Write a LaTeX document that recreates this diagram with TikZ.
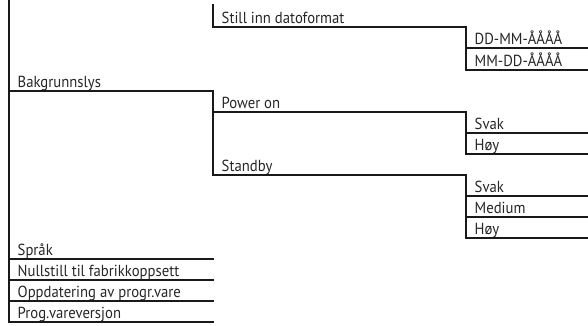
\documentclass[tikz,border=0pt]{standalone}
\usepackage{fontspec}
\setmainfont{PT Sans}[FakeStretch=0.92]
\usetikzlibrary{calc}
\tikzset{
  ln/.style={line width=1.8pt, line cap=rect, draw=black!90},
  lbl/.style={anchor=base west, inner sep=0pt, font=\fontsize{16}{18}\selectfont, text=black!85}
}
\newcommand\mitem[5]{%
  \coordinate (#1-l) at (#2,#4);
  \coordinate (#1-r) at (#3,#4);
  \node[lbl] (#1) at ([xshift=8.5pt,yshift=3.5pt]#1-l) {#5};
  \draw[ln] (#1-l) -- (#1-r);
}
\begin{document}
\begin{tikzpicture}[x=1pt,y=-1pt]
\useasboundingbox (0,0) rectangle (588,325);
\coordinate (top0) at (9,0);
\coordinate (top1) at (213,5);
\mitem{still}{213}{466}{27}{Still inn datoformat}
\mitem{ddmm}{466}{588}{48}{DD-MM-ÅÅÅÅ}
\mitem{mmdd}{466}{588}{70}{MM-DD-ÅÅÅÅ}
\mitem{bak}{9}{213}{91}{Bakgrunnslys}
\mitem{power}{213}{466}{112}{Power on}
\mitem{svak1}{466}{588}{133}{Svak}
\mitem{hoy1}{466}{588}{154}{Høy}
\mitem{standby}{213}{466}{175}{Standby}
\mitem{svak2}{466}{588}{196}{Svak}
\mitem{medium}{466}{588}{217}{Medium}
\mitem{hoy2}{466}{588}{238}{Høy}
\mitem{sprak}{9}{213}{259}{Språk}
\mitem{null}{9}{213}{280}{Nullstill til fabrikkoppsett}
\mitem{oppd}{9}{213}{301}{Oppdatering av progr.vare}
\mitem{prog}{9}{213}{322}{Prog.vareversjon}
\draw[ln] (top0) -- (prog-l);
\draw[ln] (top1) -- (still-l);
\draw[ln] (still-r) -- (mmdd-l);
\draw[ln] (bak-r) -- (standby-l);
\draw[ln] (power-r) -- (hoy1-l);
\draw[ln] (standby-r) -- (hoy2-l);
\end{tikzpicture}
\end{document}
